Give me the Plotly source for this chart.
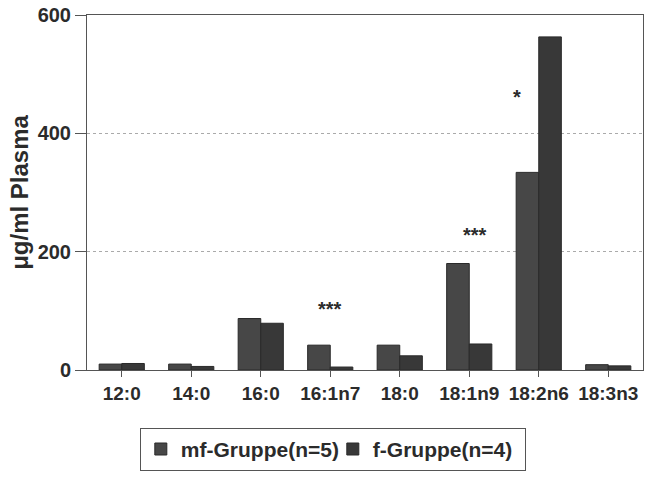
import plotly.graph_objects as go

categories = ["12:0", "14:0", "16:0", "16:1n7", "18:0", "18:1n9", "18:2n6", "18:3n3"]
mf_values = [10, 10, 87, 42, 42, 180, 334, 9]
f_values = [11, 6, 79, 5, 24, 44, 563, 7]
series_names = ["mf-Gruppe(n=5)", "f-Gruppe(n=4)"]
star_labels = ["***", "***", "*"]
star_x = [3, 5.08, 5.68]
star_y = [103, 229, 462]
y_ticks = [0, 200, 400, 600]

font_family = "Liberation Sans, Arial, Helvetica, sans-serif"
text_color = "#2b2b2b"
x_idx = list(range(len(categories)))

fig = go.Figure()
fig.add_trace(go.Bar(x=x_idx, y=mf_values, name=series_names[0],
                     marker=dict(color="#474747", line=dict(color="#2a2a2a", width=1))))
fig.add_trace(go.Bar(x=x_idx, y=f_values, name=series_names[1],
                     marker=dict(color="#383838", line=dict(color="#2a2a2a", width=1))))

for lbl, xx, yy in zip(star_labels, star_x, star_y):
    fig.add_annotation(x=xx, y=yy, text=lbl, showarrow=False,
                       font=dict(family=font_family, size=20, color=text_color, weight="bold"))

fig.update_layout(
    width=655, height=479,
    margin=dict(l=87, r=12, t=15, b=109, autoexpand=False),
    paper_bgcolor="white", plot_bgcolor="white",
    barmode="group", bargap=0.35, bargroupgap=0,
    font=dict(family=font_family, color=text_color),
    showlegend=True,
    legend=dict(orientation="h", x=0.095, y=-0.163, xanchor="left", yanchor="top",
                bordercolor="#555", borderwidth=1, bgcolor="white",
                font=dict(family=font_family, size=21, color=text_color, weight="bold"),
                itemwidth=30, entrywidthmode="pixels", entrywidth=147),
)
fig.update_xaxes(
    range=[-0.5, 7.5], tickmode="array", tickvals=x_idx, ticktext=categories,
    ticks="outside", ticklen=6, tickcolor="#555",
    showline=True, linecolor="#555", linewidth=1, mirror=True,
    showgrid=False, zeroline=False, automargin=False,
    tickfont=dict(family=font_family, size=19, color=text_color, weight="bold"),
)
fig.update_yaxes(
    range=[0, 600], tickmode="array", tickvals=y_ticks,
    ticks="outside", ticklen=11, tickcolor="#555",
    showline=True, linecolor="#555", linewidth=1, mirror=True,
    showgrid=True, gridcolor="#aaa", griddash="dot", gridwidth=1,
    zeroline=False, automargin=False,
    tickfont=dict(family=font_family, size=20, color=text_color, weight="bold"),
    title=dict(text="μg/ml Plasma", standoff=2,
               font=dict(family=font_family, size=24, color=text_color, weight="bold")),
)

fig.write_html("out.html", config={"displayModeBar": False},
               post_script="document.body.style.margin='0';document.body.style.overflow='hidden';")
